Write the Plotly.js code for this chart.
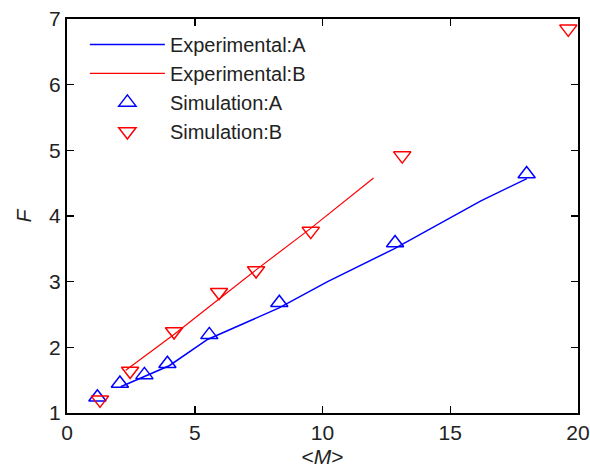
<!DOCTYPE html>
<html>
<head>
<meta charset="utf-8">
<script src="https://cdn.plot.ly/plotly-3.0.1.min.js"></script>
<style>html,body{margin:0;padding:0;background:#fff;}#chart{width:590px;height:469px;}</style>
</head>
<body>
<div id="chart"></div>
<script>
// Experimental curves
const expA_x = [2.1, 3.0, 4.0, 5.5, 8.3, 10.2, 12.8, 16.2, 18.0];
const expA_y = [1.40, 1.55, 1.72, 2.12, 2.60, 3.00, 3.50, 4.23, 4.57];
const expB_x = [2.3, 4.2, 6.0, 7.4, 9.5, 12.0];
const expB_y = [1.65, 2.20, 2.75, 3.18, 3.80, 4.58];
// Simulation points
const simA_x = [1.19, 2.07, 3.03, 3.93, 5.57, 8.31, 12.84, 17.99];
const simA_y = [1.24, 1.45, 1.58, 1.75, 2.19, 2.68, 3.59, 4.64];
const simB_x = [1.29, 2.47, 4.19, 5.95, 7.40, 9.54, 13.12, 19.62];
const simB_y = [1.20, 1.64, 2.24, 2.84, 3.17, 3.77, 4.92, 6.85];
const xTicks = [0, 5, 10, 15, 20];
const yTicks = [1, 2, 3, 4, 5, 6, 7];

const font = {family: 'Liberation Sans, Arial, sans-serif', color: '#222', size: 21};
const legFont = {family: 'Liberation Sans, Arial, sans-serif', color: '#222', size: 20};

const traces = [
  {x: expA_x, y: expA_y, name: 'Experimental:A', mode: 'lines', line: {color: 'rgb(0,0,255)', width: 1.5}},
  {x: expB_x, y: expB_y, name: 'Experimental:B', mode: 'lines', line: {color: 'rgb(255,0,0)', width: 1.2}},
  {x: simA_x, y: simA_y, name: 'Simulation:A', mode: 'markers', marker: {symbol: 'triangle-up-open', size: 15, color: 'rgb(0,0,255)', line: {width: 1.5, color: 'rgb(0,0,255)'}}},
  {x: simB_x, y: simB_y, name: 'Simulation:B', mode: 'markers', marker: {symbol: 'triangle-down-open', size: 15, color: 'rgb(255,0,0)', line: {width: 1.5, color: 'rgb(255,0,0)'}}}
];

const axisCommon = {
  showgrid: false, zeroline: false, showline: true, linecolor: '#000', linewidth: 2,
  mirror: 'ticks', ticks: 'inside', ticklen: 7, tickwidth: 1.5, tickcolor: '#000',
  tickfont: font
};

const layout = {
  width: 590, height: 469,
  margin: {l: 67, r: 12, t: 19, b: 56},
  paper_bgcolor: '#fff', plot_bgcolor: '#fff',
  font: font,
  showlegend: true,
  legend: {x: 0.035, y: 0.985, xanchor: 'left', yanchor: 'top', bgcolor: 'rgba(0,0,0,0)', borderwidth: 0, font: legFont, itemwidth: 75, tracegroupgap: 0},
  xaxis: Object.assign({}, axisCommon, {range: [0, 20], tickvals: xTicks, ticktext: xTicks.map(String),
    title: {text: '&lt;<i>M</i>&gt;', font: font, standoff: 6}}),
  yaxis: Object.assign({}, axisCommon, {range: [1, 7], tickvals: yTicks, ticktext: yTicks.map(String),
    title: {text: '<i>F</i>', font: font, standoff: 12}})
};

Plotly.newPlot('chart', traces, layout, {displayModeBar: false, staticPlot: true});
</script>
</body>
</html>
